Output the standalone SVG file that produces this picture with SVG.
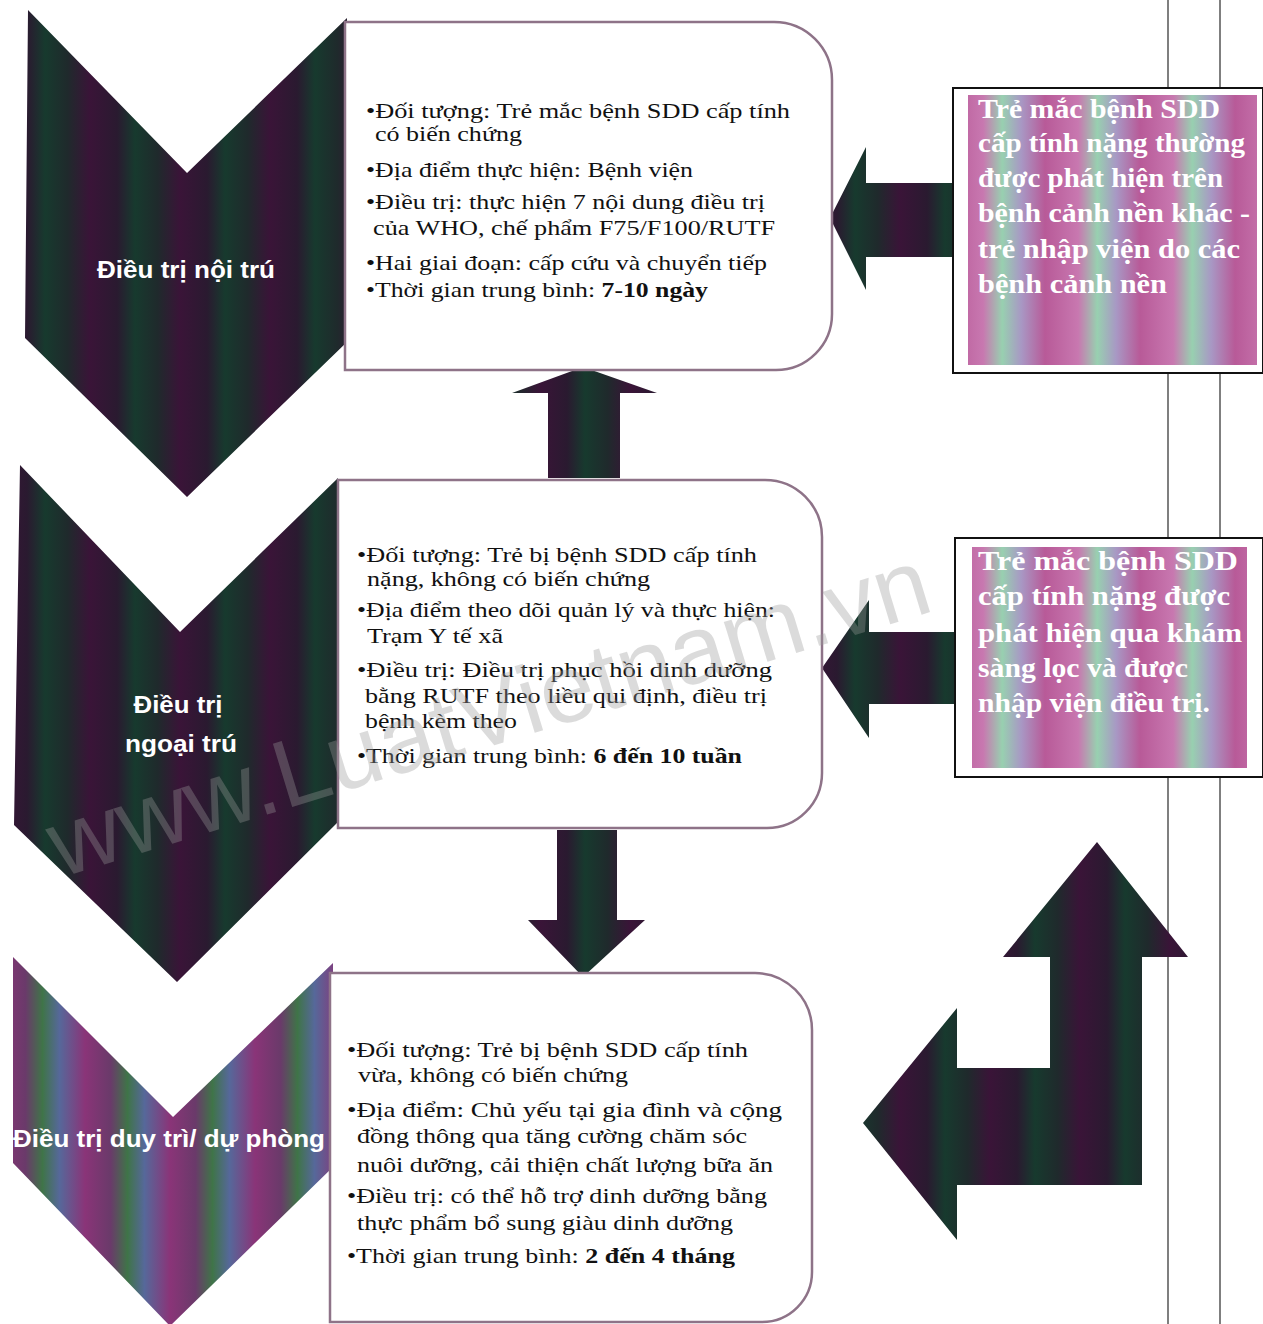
<svg xmlns="http://www.w3.org/2000/svg" width="1263" height="1324" viewBox="0 0 1263 1324">
<defs>
<linearGradient id="darkStripe" gradientUnits="userSpaceOnUse" x1="0" y1="0" x2="90" y2="0" spreadMethod="repeat">
<stop offset="0" stop-color="#3a1438"/>
<stop offset="0.3" stop-color="#2a1a30"/>
<stop offset="0.5" stop-color="#173a2e"/>
<stop offset="0.75" stop-color="#1f2a2c"/>
<stop offset="1" stop-color="#3a1438"/>
</linearGradient>
<linearGradient id="brightStripe" gradientUnits="userSpaceOnUse" x1="0" y1="0" x2="85" y2="0" spreadMethod="repeat">
<stop offset="0" stop-color="#8a3478"/>
<stop offset="0.3" stop-color="#6a3a6a"/>
<stop offset="0.5" stop-color="#3f7448"/>
<stop offset="0.7" stop-color="#56689a"/>
<stop offset="1" stop-color="#8a3478"/>
</linearGradient>
<linearGradient id="pinkStripe" gradientUnits="userSpaceOnUse" x1="0" y1="0" x2="95" y2="0" spreadMethod="repeat">
<stop offset="0" stop-color="#b85a98"/>
<stop offset="0.35" stop-color="#c878b0"/>
<stop offset="0.55" stop-color="#98d0b0"/>
<stop offset="0.75" stop-color="#a898c4"/>
<stop offset="1" stop-color="#b85a98"/>
</linearGradient>
<style>
.chev { fill: url(#darkStripe); }
.chev3 { fill: url(#brightStripe); }
.arrow { fill: url(#darkStripe); }
.box { fill: #ffffff; stroke: #8e7388; stroke-width: 2.5; }
.lbl { font-family: "Liberation Sans", Arial, sans-serif; font-weight: bold; font-size: 24px; fill: #ffffff; text-anchor: middle; }
.bt { font-family: "Liberation Serif", "Times New Roman", serif; font-size: 22px; fill: #111111; }
.b { font-weight: bold; }
.outer { fill: #ffffff; stroke: #111111; stroke-width: 2; }
.inner { fill: url(#pinkStripe); }
.wt { font-family: "Liberation Serif", "Times New Roman", serif; font-weight: bold; font-size: 27px; fill: #ffffff; }
.vline { stroke: #555555; stroke-width: 1.5; }
.wm { font-family: "Liberation Sans", Arial, sans-serif; font-size: 96px; fill: #9a9a9a; opacity: 0.35; }
</style>
</defs>
<rect width="1263" height="1324" fill="#ffffff"/>

<g id="page-lines">
<line class="vline" x1="1168" y1="0" x2="1168" y2="1324"/>
<line class="vline" x1="1220" y1="0" x2="1220" y2="1324"/>
</g>

<g id="chevron-noi-tru">
<polygon class="chev" points="28,10 187,173 347,18 347,342 187,497 25,338"/>
<text class="lbl" x="186" y="278" textLength="178" lengthAdjust="spacingAndGlyphs">Điều trị nội trú</text>
</g>

<g id="chevron-ngoai-tru">
<polygon class="chev" points="20,465 180,632 338,478 338,822 177,982 14,825"/>
<text class="lbl" x="178" y="713" textLength="89" lengthAdjust="spacingAndGlyphs">Điều trị</text>
<text class="lbl" x="181" y="752" textLength="112" lengthAdjust="spacingAndGlyphs">ngoại trú</text>
</g>

<g id="chevron-duy-tri">
<polygon class="chev3" points="13,957 173,1117 333,963 333,1167 170,1326 13,1163"/>
<text class="lbl" x="169" y="1147" textLength="312" lengthAdjust="spacingAndGlyphs">Điều trị duy trì/ dự phòng</text>
</g>

<g id="connectors">
<polygon class="arrow" points="830,218 866,147 866,183 953,183 953,257 866,257 866,290"/>
<polygon class="arrow" points="822,668 869,600 869,632 956,632 956,704 869,704 869,738"/>
<polygon class="arrow" points="583,367 657,393 620,393 620,478 548,478 548,393 512,393"/>
<polygon class="arrow" points="557,830 617,830 617,920 645,920 583,977 528,920 557,920"/>
<polygon class="arrow" points="1097,842 1188,957 1142,957 1142,1185 957,1185 957,1240 863,1123 957,1008 957,1068 1050,1068 1050,957 1003,957"/>
</g>

<g id="box-noi-tru">
<path class="box" d="M345,22 H774 A58,58 0 0 1 832,80 V314 A56,56 0 0 1 776,370 H345 Z"/>
<text class="bt" x="366" y="118" textLength="424" lengthAdjust="spacingAndGlyphs">•Đối tượng: Trẻ mắc bệnh SDD cấp tính</text>
<text class="bt" x="375" y="141" textLength="147" lengthAdjust="spacingAndGlyphs">có biến chứng</text>
<text class="bt" x="366" y="177" textLength="327" lengthAdjust="spacingAndGlyphs">•Địa điểm thực hiện: Bệnh viện</text>
<text class="bt" x="366" y="209" textLength="399" lengthAdjust="spacingAndGlyphs">•Điều trị: thực hiện 7 nội dung điều trị</text>
<text class="bt" x="373" y="235" textLength="402" lengthAdjust="spacingAndGlyphs">của WHO, chế phẩm F75/F100/RUTF</text>
<text class="bt" x="366" y="270" textLength="401" lengthAdjust="spacingAndGlyphs">•Hai giai đoạn: cấp cứu và chuyển tiếp</text>
<text class="bt" x="366" y="297" textLength="342" lengthAdjust="spacingAndGlyphs">•Thời gian trung bình: <tspan class="b">7-10 ngày</tspan></text>
</g>

<g id="box-ngoai-tru">
<path class="box" d="M338,480 H765 A57,57 0 0 1 822,537 V773 A55,55 0 0 1 767,828 H338 Z"/>
<text class="bt" x="357" y="562" textLength="400" lengthAdjust="spacingAndGlyphs">•Đối tượng: Trẻ bị bệnh SDD cấp tính</text>
<text class="bt" x="367" y="586" textLength="283" lengthAdjust="spacingAndGlyphs">nặng, không có biến chứng</text>
<text class="bt" x="357" y="617" textLength="418" lengthAdjust="spacingAndGlyphs">•Địa điểm theo dõi quản lý và thực hiện:</text>
<text class="bt" x="367" y="643" textLength="136" lengthAdjust="spacingAndGlyphs">Trạm Y tế xã</text>
<text class="bt" x="357" y="677" textLength="415" lengthAdjust="spacingAndGlyphs">•Điều trị:  Điều trị phục hồi dinh dưỡng</text>
<text class="bt" x="365" y="703" textLength="402" lengthAdjust="spacingAndGlyphs">bằng RUTF theo liều qui định, điều trị</text>
<text class="bt" x="365" y="728" textLength="152" lengthAdjust="spacingAndGlyphs">bệnh kèm theo</text>
<text class="bt" x="357" y="763" textLength="385" lengthAdjust="spacingAndGlyphs">•Thời gian trung bình: <tspan class="b">6 đến 10 tuần</tspan></text>
</g>

<g id="box-duy-tri">
<path class="box" d="M330,973 H755 A57,57 0 0 1 812,1030 V1272 A50,50 0 0 1 762,1322 H330 Z"/>
<text class="bt" x="347" y="1057" textLength="401" lengthAdjust="spacingAndGlyphs">•Đối tượng: Trẻ bị bệnh SDD cấp tính</text>
<text class="bt" x="358" y="1082" textLength="270" lengthAdjust="spacingAndGlyphs">vừa, không có biến chứng</text>
<text class="bt" x="347" y="1117" textLength="435" lengthAdjust="spacingAndGlyphs">•Địa điểm: Chủ yếu  tại gia đình  và cộng</text>
<text class="bt" x="357" y="1143" textLength="390" lengthAdjust="spacingAndGlyphs">đồng thông qua tăng cường chăm sóc</text>
<text class="bt" x="357" y="1172" textLength="416" lengthAdjust="spacingAndGlyphs">nuôi dưỡng, cải thiện chất lượng bữa ăn</text>
<text class="bt" x="347" y="1203" textLength="420" lengthAdjust="spacingAndGlyphs">•Điều trị: có thể hỗ trợ dinh dưỡng bằng</text>
<text class="bt" x="357" y="1230" textLength="376" lengthAdjust="spacingAndGlyphs">thực phẩm bổ sung giàu dinh dưỡng</text>
<text class="bt" x="347" y="1263" textLength="388" lengthAdjust="spacingAndGlyphs">•Thời gian trung bình: <tspan class="b">2 đến 4 tháng</tspan></text>
</g>

<g id="note-benh-canh-nen">
<rect class="outer" x="953" y="88" width="310" height="285"/>
<rect class="inner" x="968" y="95" width="289" height="270"/>
<text class="wt" x="978" y="118" textLength="242" lengthAdjust="spacingAndGlyphs">Trẻ mắc bệnh SDD</text>
<text class="wt" x="978" y="152" textLength="267" lengthAdjust="spacingAndGlyphs">cấp tính nặng thường</text>
<text class="wt" x="978" y="187" textLength="245" lengthAdjust="spacingAndGlyphs">được phát hiện trên</text>
<text class="wt" x="978" y="222" textLength="272" lengthAdjust="spacingAndGlyphs">bệnh cảnh nền khác -</text>
<text class="wt" x="978" y="258" textLength="262" lengthAdjust="spacingAndGlyphs">trẻ nhập viện do các</text>
<text class="wt" x="978" y="293" textLength="189" lengthAdjust="spacingAndGlyphs">bệnh cảnh nền</text>
</g>

<g id="note-sang-loc">
<rect class="outer" x="955" y="538" width="308" height="239"/>
<rect class="inner" x="972" y="547" width="275" height="221"/>
<text class="wt" x="978" y="570" textLength="260" lengthAdjust="spacingAndGlyphs">Trẻ mắc bệnh SDD</text>
<text class="wt" x="978" y="605" textLength="252" lengthAdjust="spacingAndGlyphs">cấp tính nặng được</text>
<text class="wt" x="978" y="642" textLength="264" lengthAdjust="spacingAndGlyphs">phát hiện qua khám</text>
<text class="wt" x="978" y="677" textLength="210" lengthAdjust="spacingAndGlyphs">sàng lọc và được</text>
<text class="wt" x="978" y="712" textLength="232" lengthAdjust="spacingAndGlyphs">nhập viện điều trị.</text>
</g>

<text class="wm" transform="translate(60,878) rotate(-17)" textLength="916" lengthAdjust="spacingAndGlyphs">www.LuatVietnam.vn</text>
</svg>
